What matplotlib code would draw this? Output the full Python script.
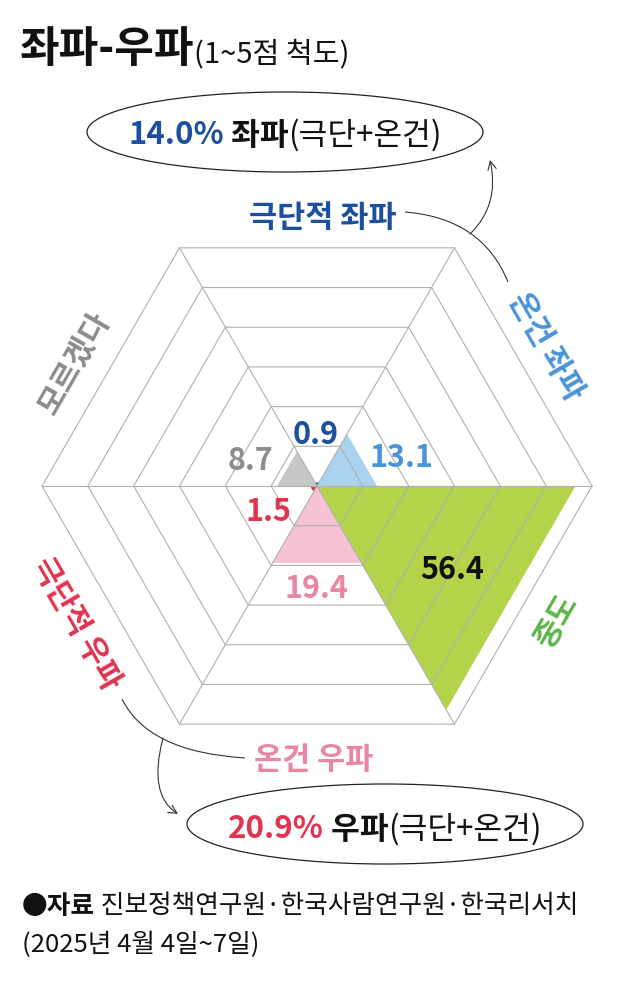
import numpy as np
import matplotlib
matplotlib.use("Agg")
from matplotlib import pyplot as plt
from matplotlib.patches import Polygon, Ellipse, PathPatch, FancyArrowPatch
from matplotlib.path import Path

plt.rcParams['font.family'] = ['Noto Sans CJK KR', 'DejaVu Sans']

# sectors, clockwise from the top
categories = ['극단적 좌파', '온건 좌파', '중도', '온건 우파', '극단적 우파', '모르겠다']
values = [0.9, 13.1, 56.4, 19.4, 1.5, 8.7]
fill_colors = ['#1d4f9f', '#a9d2ef', '#b4d34a', '#f5c3d3', '#e0344f', '#c6c6c6']
label_colors = ['#1d4f9f', '#4a94d6', '#5db54a', '#ea86a0', '#e0344f', '#8c8c8c']
value_colors = ['#1d4f9f', '#4a94d6', '#111111', '#ea86a0', '#e0344f', '#8c8c8c']
rings = [10, 20, 30, 40, 50, 60]

left_total = 14.0
right_total = 20.9
title = '좌파-우파'
subtitle = '(1~5점 척도)'
source_head = '●자료'
source = ' 진보정책연구원·한국사람연구원·한국리서치'
period = '(2025년 4월 4일~7일)'

W, H = 640, 985
fig = plt.figure(figsize=(W / 100, H / 100), dpi=100)

# overlay in pixel units for titles, ellipses and connectors
ov = fig.add_axes([0, 0, 1, 1])
ov.set_xlim(0, W)
ov.set_ylim(H, 0)
ov.axis('off')

# radar axes: centre at (317, 486) px, 60 units = 275 px
cx, cy, R = 317, 486, 275
lim = 66
half = lim / rings[-1] * R
rad = fig.add_axes([(cx - half) / W, (H - cy - half) / H, 2 * half / W, 2 * half / H])
rad.set_xlim(-lim, lim)
rad.set_ylim(-lim, lim)
rad.axis('off')

vert_ang = np.deg2rad(np.arange(0, 360, 60))
grid_col = '#b0b0b0'

# sector triangles
for i, v in enumerate(values):
    a1 = np.deg2rad(120 - 60 * i)
    a2 = np.deg2rad(60 - 60 * i)
    pts = [(0, 0), (v * np.cos(a1), v * np.sin(a1)), (v * np.cos(a2), v * np.sin(a2))]
    rad.add_patch(Polygon(pts, closed=True, facecolor=fill_colors[i], edgecolor='none', zorder=1))

# hexagon grid on top of the fills
for r in rings:
    rad.add_patch(Polygon(np.c_[r * np.cos(vert_ang), r * np.sin(vert_ang)], closed=True,
                          fill=False, edgecolor=grid_col, lw=0.8, zorder=2))
for a in vert_ang[:3]:
    rad.plot([-rings[-1] * np.cos(a), rings[-1] * np.cos(a)],
             [-rings[-1] * np.sin(a), rings[-1] * np.sin(a)], color=grid_col, lw=0.8, zorder=2)

# value labels
value_pos = [(-0.4, 12.0), (18.5, 6.8), (29.5, -17.5), (-0.2, -21.6), (-10.5, -5.0), (-14.6, 6.3)]
for i, v in enumerate(values):
    rad.text(value_pos[i][0], value_pos[i][1], f'{v:.1f}', color=value_colors[i],
             fontsize=22, fontweight='bold', ha='center', va='center_baseline', zorder=3)

# category labels around the hexagon
cat_pos = [(1.3, 59.3), (50.6, 30.8), (51.6, -28.9), (-0.7, -59.1), (-51.9, -29.7), (-53.5, 27.1)]
cat_rot = [0, -60, 60, 0, -60, 60]
for i, c in enumerate(categories):
    rad.text(cat_pos[i][0], cat_pos[i][1], c, color=label_colors[i], fontsize=22,
             fontweight='bold', rotation=cat_rot[i], rotation_mode='anchor',
             ha='center', va='center_baseline')


def rich_text(x, y, parts, ha='center', va='center_baseline'):
    texts = [ov.text(0, y, s, color=col, fontsize=fs, fontweight=fw, va=va)
             for s, col, fs, fw in parts]
    renderer = fig.canvas.get_renderer()
    widths = [t.get_window_extent(renderer).width for t in texts]
    start = x - sum(widths) / 2 if ha == 'center' else x
    for t, w in zip(texts, widths):
        t.set_x(start)
        start += w
    return texts


# title
rich_text(20, 62, [(title, '#111111', 31, 'bold'), (subtitle, '#111111', 21, 'normal')],
          ha='left', va='baseline')

# summary ellipses
ov.add_patch(Ellipse((285, 132), 396, 80, fill=False, edgecolor='#222222', lw=0.9))
rich_text(285, 132, [(f'{left_total:.1f}%', '#1d4f9f', 22.5, 'bold'),
                     (' 좌파', '#111111', 22.5, 'bold'),
                     ('(극단+온건)', '#111111', 22.5, 'normal')])
ov.add_patch(Ellipse((385, 824), 396, 80, fill=False, edgecolor='#222222', lw=0.9))
rich_text(385, 826, [(f'{right_total:.1f}%', '#e0344f', 22.5, 'bold'),
                     (' 우파', '#111111', 22.5, 'bold'),
                     ('(극단+온건)', '#111111', 22.5, 'normal')])


def curve(p0, c, p1, arrow=False):
    path = Path([p0, c, p1], [Path.MOVETO, Path.CURVE3, Path.CURVE3])
    if arrow:
        ov.add_patch(FancyArrowPatch(path=path, arrowstyle='->,head_length=6,head_width=3',
                                     color='#333333', lw=0.8))
    else:
        ov.add_patch(PathPatch(path, fill=False, edgecolor='#333333', lw=0.8))


# connectors grouping the sectors
curve((405, 212), (482, 218), (508, 282))
curve((470, 234), (500, 205), (490, 160), arrow=True)
curve((122, 699), (148, 752), (245, 758))
curve((163, 738), (148, 795), (178, 814), arrow=True)

# source
rich_text(22, 903, [(source_head, '#111111', 18.5, 'bold'), (source, '#111111', 18.5, 'normal')],
          ha='left')
ov.text(22, 942, period, color='#111111', fontsize=18.5, va='center_baseline')

fig.savefig('out.png', dpi=100)
